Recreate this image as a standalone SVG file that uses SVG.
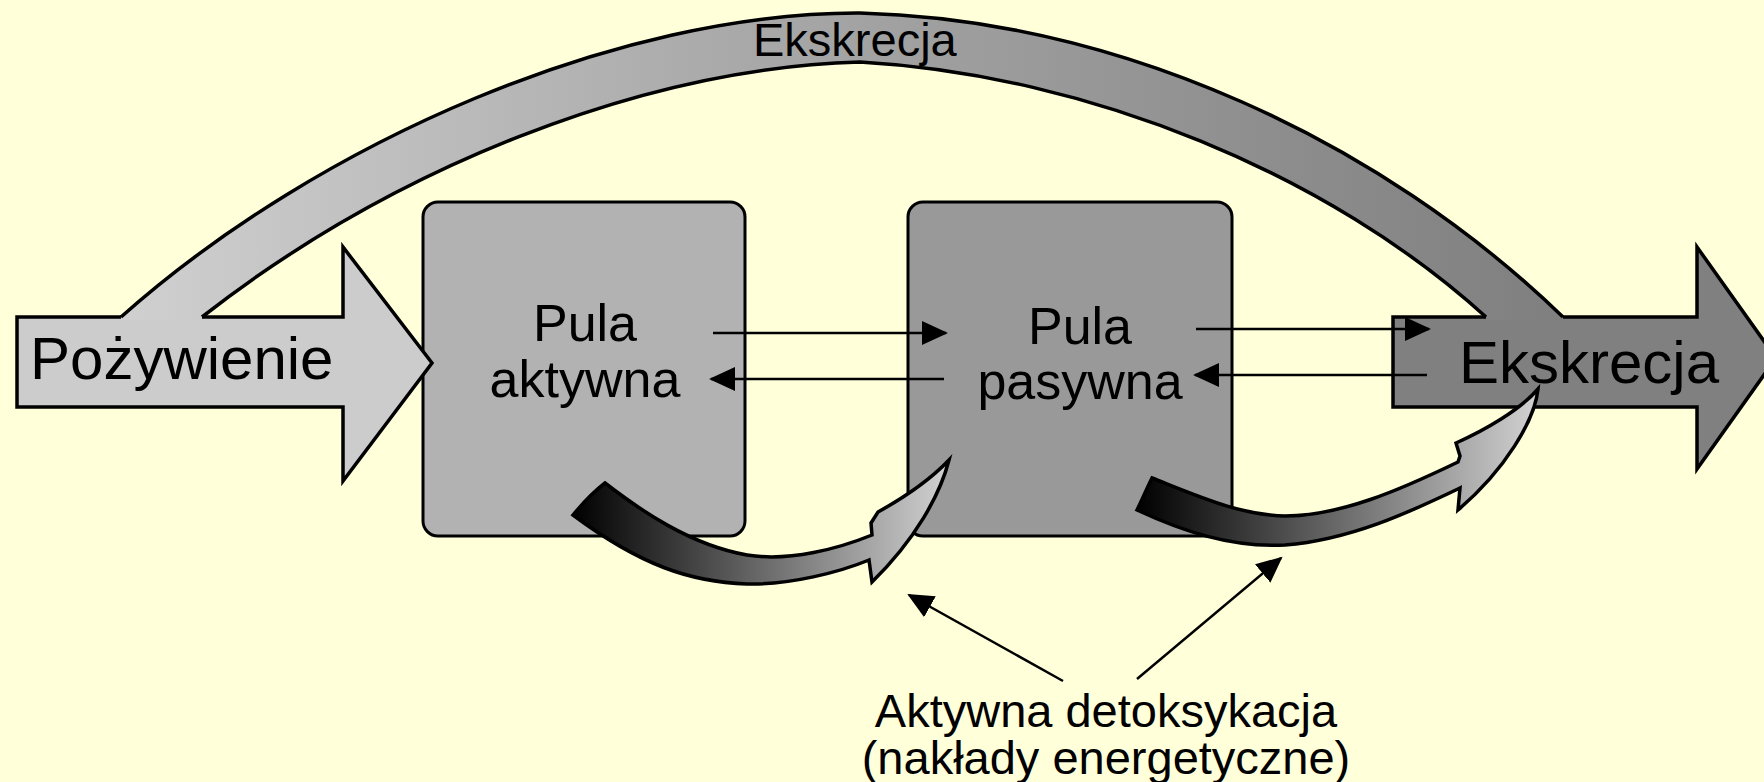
<svg xmlns="http://www.w3.org/2000/svg" width="1764" height="782" viewBox="0 0 1764 782">
  <style>
    .lbl { font-family: "Liberation Sans", Arial, Helvetica, sans-serif; fill: #000; }
    .pool { stroke: #000; stroke-width: 3; }
    .big { stroke: #000; stroke-width: 3.5; stroke-linejoin: miter; }
    .edge { fill: none; stroke: #000; stroke-width: 3.5; }
    .thin { fill: none; stroke: #000; stroke-width: 2.5; }
    .bent { stroke: #000; stroke-width: 3.5; stroke-linejoin: miter; }
  </style>
  <defs>
    <linearGradient id="bandFill" gradientUnits="userSpaceOnUse" x1="121" y1="0" x2="1563" y2="0">
      <stop offset="0" stop-color="#d0d0d0"/>
      <stop offset="0.4" stop-color="#ababab"/>
      <stop offset="1" stop-color="#7f7f7f"/>
    </linearGradient>
    <linearGradient id="bentFill" x1="0" y1="0" x2="1" y2="0">
      <stop offset="0" stop-color="#000"/>
      <stop offset="1" stop-color="#d2d2d2"/>
    </linearGradient>
    <marker id="tip" markerUnits="userSpaceOnUse" markerWidth="28" markerHeight="26" refX="24" refY="12" orient="auto">
      <path d="M0,0 L26,12 L0,24 Z" fill="#000"/>
    </marker>
  </defs>

  <rect width="1764" height="782" fill="#ffffda"/>

  <!-- pools -->
  <g id="pool-active">
    <rect class="pool" x="423" y="202" width="322" height="334" rx="15" fill="#b2b2b2"/>
    <text class="lbl" x="585" y="341" font-size="52" text-anchor="middle">Pula</text>
    <text class="lbl" x="585" y="397" font-size="52" text-anchor="middle">aktywna</text>
  </g>
  <g id="pool-passive">
    <rect class="pool" x="908" y="202" width="324" height="334" rx="15" fill="#999999"/>
    <text class="lbl" x="1080" y="344" font-size="52" text-anchor="middle">Pula</text>
    <text class="lbl" x="1080" y="399" font-size="52" text-anchor="middle">pasywna</text>
  </g>

  <!-- outflow arrow -->
  <g id="excretion">
    <path class="big" fill="#808080" d="M1393,317 L1697,317 L1697,247 L1776,358 L1697,469 L1697,407 L1393,407 Z"/>
    <text class="lbl" x="1459" y="383" font-size="60">Ekskrecja</text>
  </g>

  <!-- inflow arrow -->
  <g id="food">
    <path class="big" fill="#cccccc" d="M17,317 L343,317 L343,247 L432,363 L343,481 L343,407 L17,407 Z"/>
    <text class="lbl" x="30" y="379" font-size="60">Pożywienie</text>
  </g>

  <!-- direct excretion band over the top -->
  <g id="bypass">
    <path fill="url(#bandFill)" d="M121,317 C320,140 620,12 860,13 C1120,20 1380,140 1563,317 L1563,320 L1486,320 L1486,317 C1330,175 1090,75 860,62 C640,68 390,170 202,317 L202,320 L121,320 Z"/>
    <path class="edge" d="M121,317 C320,140 620,12 860,13 C1120,20 1380,140 1563,317"/>
    <path class="edge" d="M202,317 C390,170 640,68 860,62 C1090,75 1330,175 1486,317"/>
    <text class="lbl" x="753" y="56" font-size="47">Ekskrecja</text>
  </g>

  <!-- connectors -->
  <g id="connectors">
    <line class="thin" x1="713" y1="333" x2="946" y2="333" marker-end="url(#tip)"/>
    <line class="thin" x1="944" y1="379" x2="711" y2="379" marker-end="url(#tip)"/>
    <line class="thin" x1="1196" y1="329" x2="1429" y2="329" marker-end="url(#tip)"/>
    <line class="thin" x1="1427" y1="375" x2="1195" y2="375" marker-end="url(#tip)"/>

    <path class="bent" fill="url(#bentFill)" d="M605,483 C640,510 690,545 747,555 C790,562 840,548 872,535 L871,523 L878,512 C905,497 930,480 949,460 C940,495 915,540 872,582 L869,560 C840,572 790,585 747,584 C690,582 640,565 573,515 C583,503 592,493 605,483 Z"/>
    <path class="bent" fill="url(#bentFill)" d="M1152,478 C1200,497 1240,515 1285,516 C1340,516 1400,490 1458,462 L1460,456 L1456,443 C1485,430 1520,410 1538,389 C1535,420 1505,470 1458,510 L1460,488 C1410,512 1350,540 1285,545 C1230,548 1180,530 1137,510 C1142,500 1147,488 1152,478 Z"/>

    <line class="thin" x1="1063" y1="681" x2="909" y2="595" marker-end="url(#tip)"/>
    <line class="thin" x1="1137" y1="679" x2="1281" y2="558" marker-end="url(#tip)"/>
  </g>

  <g id="detox-label">
    <text class="lbl" x="1106" y="727" font-size="47" text-anchor="middle">Aktywna detoksykacja</text>
    <text class="lbl" x="1106" y="774" font-size="47" text-anchor="middle">(nakłady energetyczne)</text>
  </g>
</svg>
